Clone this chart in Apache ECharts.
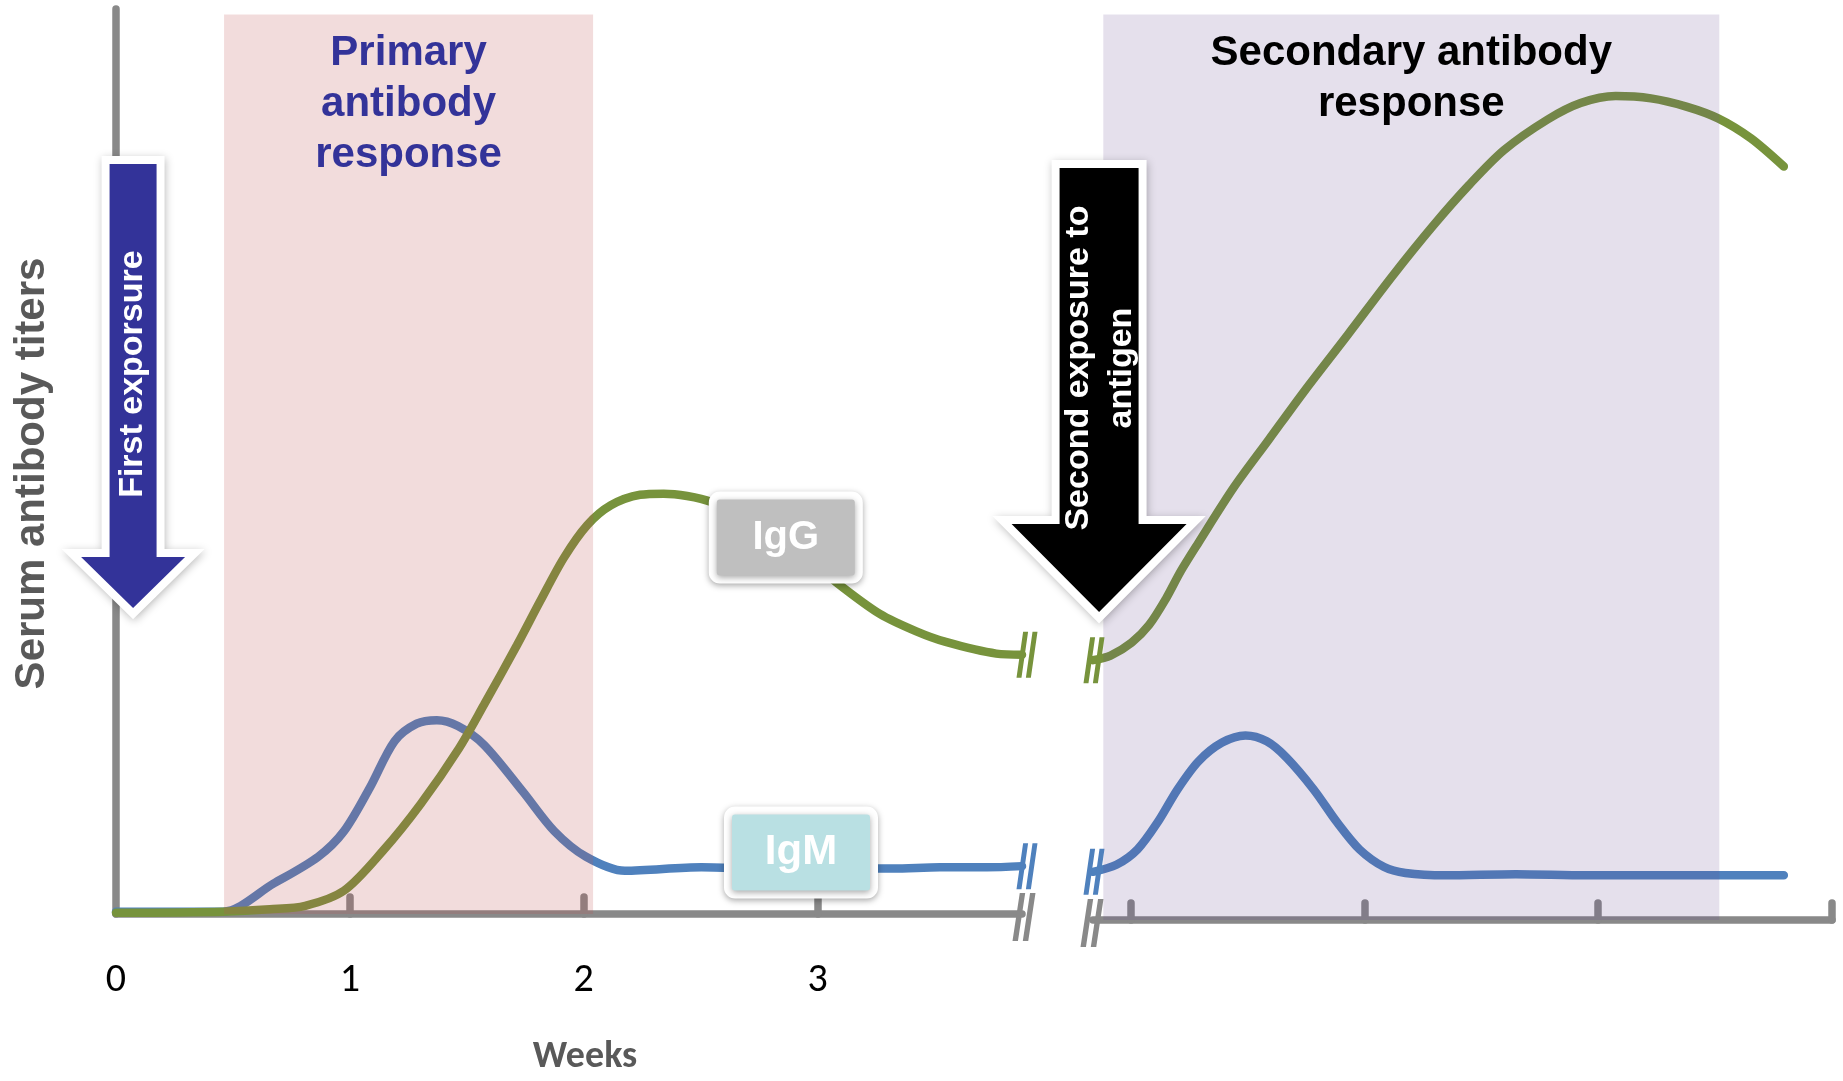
<!DOCTYPE html>
<html><head><meta charset="utf-8">
<script src="https://cdn.jsdelivr.net/npm/echarts@6/dist/echarts.min.js"></script>
<style>html,body{margin:0;padding:0;background:#fff}#c{width:1843px;height:1081px}</style>
</head><body><div id="c"></div>
<script>
// ---- data (weeks on x, relative serum titer 0-100 on y) ----
const weekTicks = [0, 1, 2, 3];
const weekLabels = ['0', '1', '2', '3'];

const igmPrimaryWeeks  = [0.000, 0.457, 0.673, 0.864, 0.975, 1.085, 1.191, 1.286, 1.372, 1.462, 1.573, 1.739, 1.874, 2.010, 2.176, 2.503, 2.769, 3.020, 3.322, 3.523, 3.724, 3.874];
const igmPrimaryTiters = [0.26, 0.26, 3.35, 6.32, 9.16, 13.94, 19.10, 21.03, 21.42, 20.77, 18.71, 13.55, 9.16, 6.32, 4.77, 5.16, 5.03, 5.03, 5.03, 5.16, 5.16, 5.29];

const iggPrimaryWeeks  = [0.000, 0.457, 0.658, 0.809, 0.975, 1.141, 1.302, 1.467, 1.573, 1.714, 1.814, 1.915, 2.015, 2.116, 2.241, 2.342, 2.442, 2.543, 2.719, 2.920, 3.080, 3.266, 3.422, 3.548, 3.764, 3.874];
const iggPrimaryTiters = [0.13, 0.26, 0.52, 0.90, 2.58, 6.97, 12.13, 18.32, 23.10, 29.68, 34.58, 39.35, 42.97, 45.16, 46.32, 46.45, 46.19, 45.55, 43.35, 40.13, 36.65, 33.16, 31.23, 30.06, 28.77, 28.65];

const igmSecondaryWeeks  = [-0.160, -0.060, 0.030, 0.116, 0.201, 0.291, 0.392, 0.492, 0.583, 0.668, 0.784, 0.884, 0.980, 1.085, 1.176, 1.347, 1.648, 1.950, 2.302, 2.794];
const igmSecondaryTiters = [5.29, 6.06, 7.74, 10.71, 14.32, 17.42, 19.48, 20.26, 19.61, 17.81, 14.32, 10.71, 7.74, 5.81, 5.16, 4.90, 5.03, 4.90, 4.90, 4.90];

const iggSecondaryWeeks  = [-0.160, -0.085, 0.005, 0.080, 0.151, 0.216, 0.291, 0.442, 0.593, 0.744, 0.930, 1.121, 1.296, 1.447, 1.598, 1.784, 1.925, 2.075, 2.226, 2.377, 2.513, 2.653, 2.794];
const iggSecondaryTiters = [28.52, 29.03, 30.45, 32.39, 35.23, 38.32, 41.42, 47.48, 52.77, 58.06, 64.26, 70.71, 76.26, 80.65, 84.52, 87.87, 89.68, 90.45, 90.19, 89.29, 88.00, 85.81, 82.71];

const primaryWindow = [0.462, 2.040];     // primary response period (weeks)
const secondaryWindow = [-0.116, 2.518];  // secondary response period (weeks after break)
const bandTop = 99.4;
const primaryEnd = 3.874;
const secondaryStart = -0.16;
const secondaryEnd = 3;
const firstExposureWeek = 0.073;
const secondExposureWeek = -0.134;
const arrowTipTiter = 33.8;
const iggLabelAt = [2.864, 41.6];
const igmLabelAt = [2.929, 6.8];

// ---- chart ----
const FONT = "'Liberation Sans', Arial, Helvetica, sans-serif";
const CAL = "Carlito, Lato, 'Open Sans', sans-serif";
const AXIS_GREY = '#898989';
const IGM = '#4f81bd';
const IGG = '#77933c';
const breakPath = 'path://M7.5,0 L12,0 L6,46 L1.5,46 Z M16,0 L20.5,0 L14.5,46 L10,46 Z';
const zip = (xs, ys) => xs.map((x, i) => [x, ys[i]]);

function boxLabel(text, coord, bg, size) {
  return {
    coord: coord, symbol: 'rect', symbolSize: 1, itemStyle: { color: 'rgba(0,0,0,0)' },
    label: {
      show: true, position: 'inside', formatter: text,
      width: 138, height: 76, lineHeight: 76, align: 'center', verticalAlign: 'middle',
      backgroundColor: bg, borderColor: '#ffffff', borderWidth: 8, borderRadius: 3,
      shadowBlur: 6, shadowColor: 'rgba(0,0,0,0.35)', shadowOffsetY: 2,
      color: '#ffffff', fontFamily: FONT, fontWeight: 'bold', fontSize: size
    }
  };
}
function breakMark(coord, color, offset, size) {
  return { coord: coord, symbol: breakPath, symbolSize: size || [21, 46], symbolOffset: offset,
           itemStyle: { color: color }, label: { show: false } };
}
function curve(name, idx, data, color, marks) {
  return {
    type: 'line', name: name, xAxisIndex: idx, yAxisIndex: idx, data: data,
    smooth: 0.3, symbol: 'none', silent: true, z: 2,
    lineStyle: { color: color, width: 8.5, cap: 'round' },
    markPoint: { silent: true, z: 10, data: marks }
  };
}

const igmP = zip(igmPrimaryWeeks, igmPrimaryTiters);
const iggP = zip(iggPrimaryWeeks, iggPrimaryTiters);
const igmS = zip(igmSecondaryWeeks, igmSecondaryTiters);
const iggS = zip(iggSecondaryWeeks, iggSecondaryTiters);

const axisLineStyle = { color: AXIS_GREY, width: 7.5, cap: 'round' };
const tickStyle = { color: AXIS_GREY, width: 7.5, cap: 'round' };

const option = {
  backgroundColor: '#ffffff',
  animation: false,
  grid: [
    { left: 116, top: 9, width: 906, height: 911 },
    { left: 1093, top: 9, width: 739, height: 911 }
  ],
  xAxis: [
    {
      gridIndex: 0, type: 'value', min: 0, max: primaryEnd,
      name: 'Weeks', nameLocation: 'middle', nameGap: 124,
      nameTextStyle: { fontFamily: CAL, fontWeight: 'bold', fontSize: 38, color: '#595959', padding: [0, 0, 0, 32] },
      axisLine: { show: true, onZero: false, lineStyle: axisLineStyle },
      axisTick: { show: true, inside: true, length: 17, customValues: [1, 2, 3], lineStyle: tickStyle },
      axisLabel: { show: true, customValues: weekTicks, formatter: v => weekLabels[weekTicks.indexOf(v)], margin: 47, fontFamily: CAL, fontSize: 40, color: '#000000' },
      splitLine: { show: false }
    },
    {
      gridIndex: 1, type: 'value', min: secondaryStart, max: secondaryEnd,
      axisLine: { show: true, onZero: false, lineStyle: axisLineStyle },
      axisTick: { show: true, inside: true, length: 17, customValues: weekTicks, lineStyle: tickStyle },
      axisLabel: { show: false },
      splitLine: { show: false }
    }
  ],
  yAxis: [
    {
      gridIndex: 0, type: 'value', min: 0, max: 100,
      name: 'Serum antibody titers', nameLocation: 'middle', nameGap: 63,
      nameTextStyle: { fontFamily: FONT, fontWeight: 'bold', fontSize: 42, color: '#595959', padding: [0, 24, 0, 0] },
      axisLine: { show: true, lineStyle: axisLineStyle },
      axisTick: { show: false }, axisLabel: { show: false }, splitLine: { show: false }
    },
    { gridIndex: 1, type: 'value', min: 0, max: 100, show: false, splitLine: { show: false } }
  ],
  series: [
    curve('IgM', 0, igmP, IGM, [
      breakMark(igmP[igmP.length - 1], IGM, [5, 0]),
      boxLabel('IgM', igmLabelAt, '#b9e0e3', 42)
    ]),
    curve('IgG', 0, iggP, IGG, [
      breakMark(iggP[iggP.length - 1], IGG, [5, 0]),
      boxLabel('IgG', iggLabelAt, '#bfbfbf', 40)
    ]),
    curve('IgM ', 1, igmS, IGM, [ breakMark(igmS[0], IGM, [1, 0]) ]),
    curve('IgG ', 1, iggS, IGG, [ breakMark(iggS[0], IGG, [1, 0]) ]),
    {
      type: 'line', xAxisIndex: 0, yAxisIndex: 0, data: [], silent: true, z: 5,
      markArea: {
        silent: true, z: 5,
        itemStyle: { color: 'rgba(190,80,80,0.2)' },
        label: { show: true, position: 'insideTop', distance: 13, color: '#333399', fontFamily: FONT, fontWeight: 'bold', fontSize: 42, lineHeight: 51 },
        data: [[{ xAxis: primaryWindow[0], yAxis: 0, name: 'Primary\nantibody\nresponse' }, { xAxis: primaryWindow[1], yAxis: bandTop }]]
      },
      markPoint: { silent: true, z: 6, data: [ breakMark([primaryEnd, 0], AXIS_GREY, [2, 3], [23, 48]) ] }
    },
    {
      type: 'line', xAxisIndex: 1, yAxisIndex: 1, data: [], silent: true, z: 5,
      markArea: {
        silent: true, z: 5,
        itemStyle: { color: 'rgba(100,70,140,0.17)' },
        label: { show: true, position: 'insideTop', distance: 13, color: '#000000', fontFamily: FONT, fontWeight: 'bold', fontSize: 42, lineHeight: 51 },
        data: [[{ xAxis: secondaryWindow[0], yAxis: 0, name: 'Secondary antibody\nresponse' }, { xAxis: secondaryWindow[1], yAxis: bandTop }]]
      },
      markPoint: { silent: true, z: 6, data: [ breakMark([secondaryStart, 0], AXIS_GREY, [-1, 3], [23, 48]) ] }
    }
  ]
};

const chart = echarts.init(document.getElementById('c'), null, { renderer: 'canvas' });
chart.setOption(option);

function arrow(tip, shaftHalf, headHalf, headH, totalH, fill) {
  const x = tip[0], y = tip[1];
  const pts = [[x - shaftHalf, y - totalH], [x + shaftHalf, y - totalH], [x + shaftHalf, y - headH], [x + headHalf, y - headH],
               [x, y], [x - headHalf, y - headH], [x - shaftHalf, y - headH]];
  return [
    { type: 'polygon', silent: true, z: 20, shape: { points: pts },
      style: { fill: '#ffffff', stroke: '#ffffff', lineWidth: 16, lineJoin: 'miter', shadowBlur: 8, shadowColor: 'rgba(0,0,0,0.25)', shadowOffsetX: 1, shadowOffsetY: 2 } },
    { type: 'polygon', silent: true, z: 21, shape: { points: pts }, style: { fill: fill } }
  ];
}

const tip1 = chart.convertToPixel({ xAxisIndex: 0, yAxisIndex: 0 }, [firstExposureWeek, arrowTipTiter]);
const tip2 = chart.convertToPixel({ xAxisIndex: 1, yAxisIndex: 1 }, [secondExposureWeek, arrowTipTiter]);

const graphics = []
  .concat(arrow(tip1, 23.5, 52, 51, 444, '#333399'))
  .concat(arrow(tip2, 39.5, 87.5, 88, 444, '#000000'))
  .concat([
    { type: 'text', silent: true, z: 22, x: tip1[0], y: tip1[1] - 234, rotation: Math.PI / 2,
      style: { text: 'First exporsure', fill: '#ffffff', fontFamily: FONT, fontWeight: 'bold', fontSize: 34, align: 'center', verticalAlign: 'middle' } },
    { type: 'text', silent: true, z: 22, x: tip2[0] + 1.5, y: tip2[1] - 244, rotation: Math.PI / 2,
      style: { text: 'Second exposure to\nantigen', fill: '#ffffff', fontFamily: FONT, fontWeight: 'bold', fontSize: 34, lineHeight: 43, align: 'center', verticalAlign: 'middle' } }
  ]);
chart.setOption({ graphic: graphics });
</script>
</body></html>
